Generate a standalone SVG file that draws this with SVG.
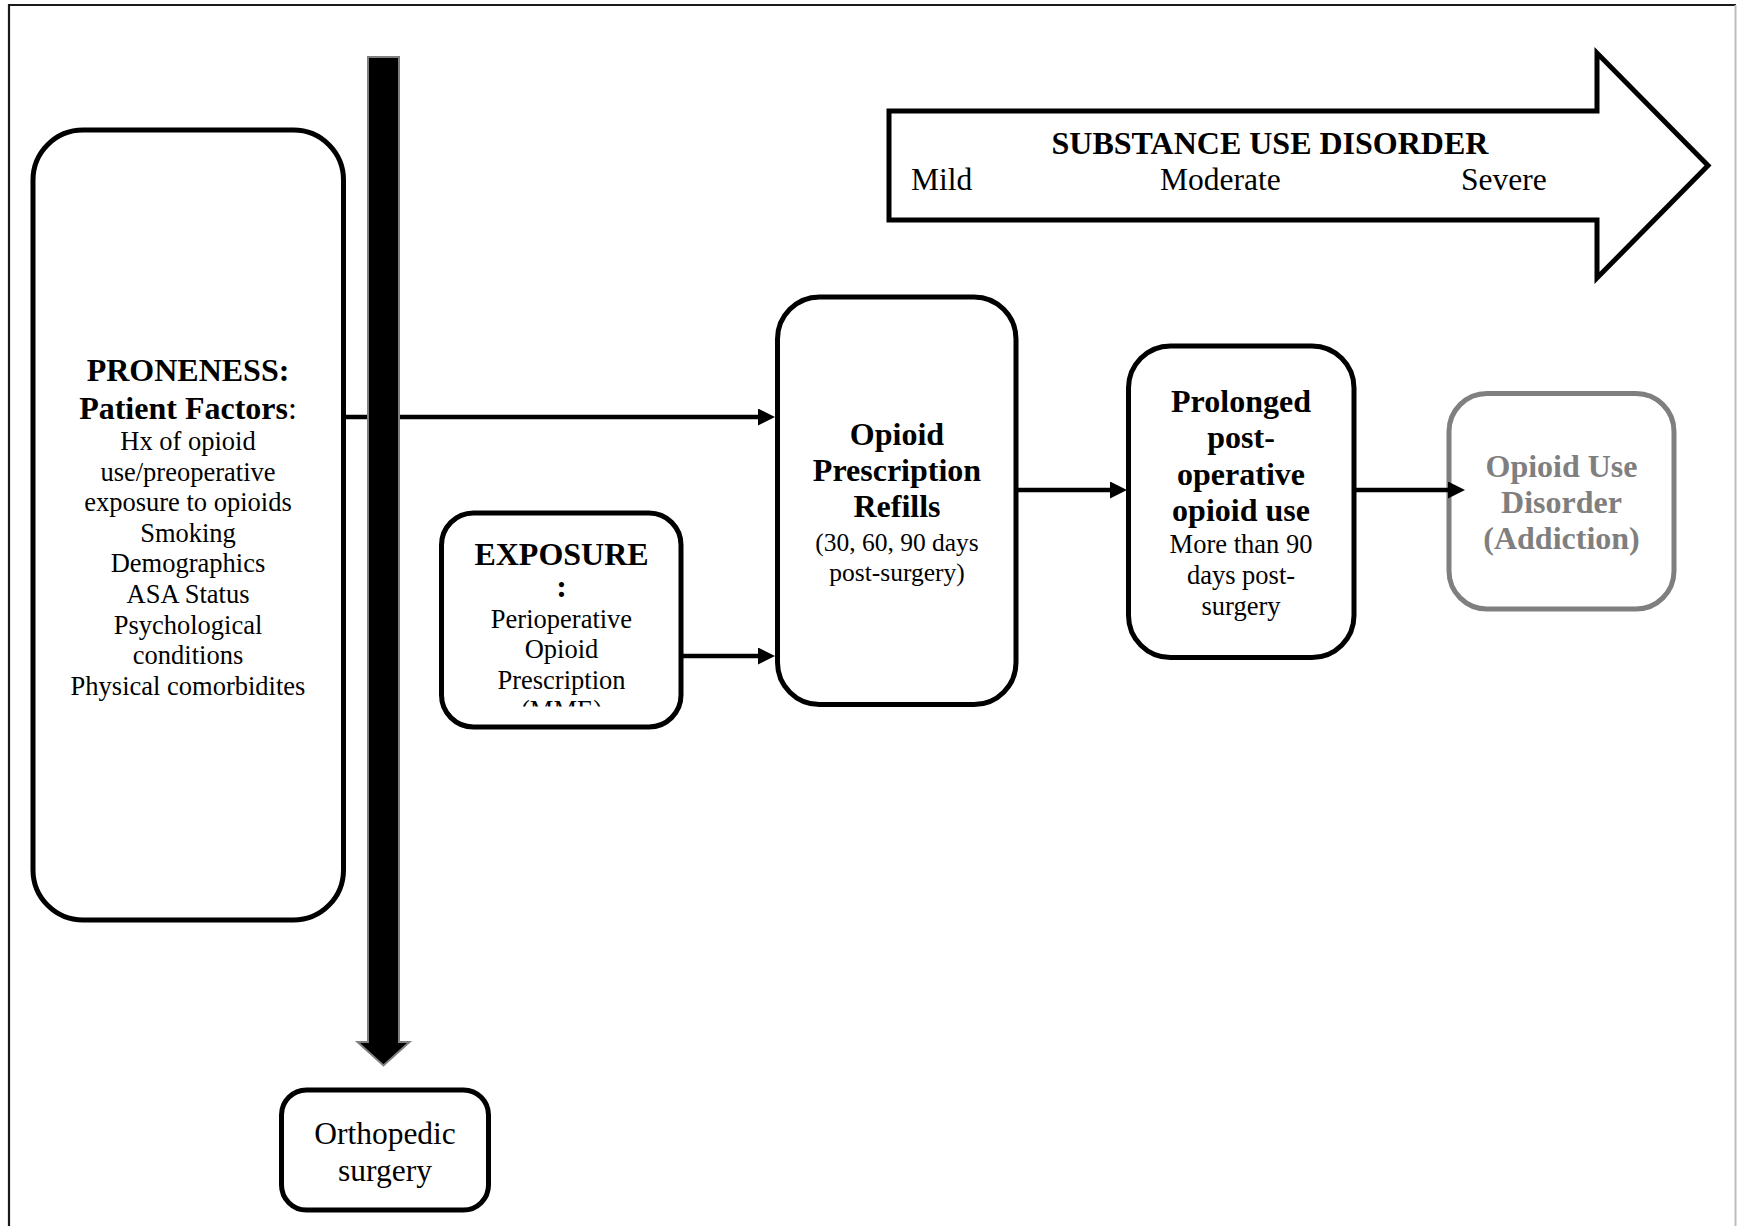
<svg xmlns="http://www.w3.org/2000/svg" width="1737" height="1226" viewBox="0 0 1737 1226">
  <defs>
    <style>
      text { font-family: "Liberation Serif", "Times New Roman", serif; text-anchor: middle; fill: #000; }
      .b { font-weight: bold; font-size: 32px; }
      .r { font-size: 26.5px; }
      .r25 { font-size: 25.5px; }
      .big { font-size: 31.5px; }
      .node { fill: #fff; stroke: #000; stroke-width: 5; }
      .gray { fill: #fff; stroke: #7f7f7f; stroke-width: 5; }
      .gtext { fill: #7f7f7f; }
      .conn { fill: none; stroke: #000; stroke-width: 4.5; marker-end: url(#ah); }
    </style>
    <marker id="ah" markerUnits="userSpaceOnUse" markerWidth="17" markerHeight="17" refX="9" refY="8.5" orient="auto">
      <path d="M0,0 L17,8.5 L0,17 z" fill="#000"/>
    </marker>
    <clipPath id="expClip">
      <rect x="441" y="513" width="240" height="193.5"/>
    </clipPath>
  </defs>

  <rect width="1737" height="1226" fill="#fff"/>

  <g id="frame">
    <line x1="9" y1="5" x2="1736" y2="5" stroke="#1a1a1a" stroke-width="2.2"/>
    <line x1="9" y1="4" x2="9" y2="1226" stroke="#1a1a1a" stroke-width="2.2"/>
    <line x1="1735.5" y1="5" x2="1735.5" y2="1226" stroke="#bdbdbd" stroke-width="2"/>
  </g>

  <g id="substance-use-disorder">
    <path d="M889,111 H1597 V53 L1708,165.5 L1597,278 V220 H889 Z" fill="#fff" stroke="#000" stroke-width="5" stroke-linejoin="miter"/>
    <text class="b" x="1270" y="154">SUBSTANCE USE DISORDER</text>
    <text class="big" x="911" y="190" style="text-anchor:start">Mild</text>
    <text class="big" x="1160" y="190" style="text-anchor:start">Moderate</text>
    <text class="big" x="1461" y="190" style="text-anchor:start">Severe</text>
  </g>

  <g id="proneness">
    <rect class="node" x="33" y="130" width="310.5" height="790" rx="50" ry="50"/>
    <text class="b" x="188" y="381">PRONENESS:</text>
    <text x="188" y="419"><tspan class="b">Patient Factors</tspan><tspan style="font-size:32px">:</tspan></text>
    <text class="r" x="188" y="450">Hx of opioid</text>
    <text class="r" x="188" y="480.6">use/preoperative</text>
    <text class="r" x="188" y="511.2">exposure to opioids</text>
    <text class="r" x="188" y="541.8">Smoking</text>
    <text class="r" x="188" y="572.4">Demographics</text>
    <text class="r" x="188" y="603">ASA Status</text>
    <text class="r" x="188" y="633.6">Psychological</text>
    <text class="r" x="188" y="664.2">conditions</text>
    <text class="r" x="188" y="694.8">Physical comorbidites</text>
  </g>

  <g id="exposure">
    <rect class="node" x="441.5" y="513" width="239.5" height="214" rx="32" ry="32"/>
    <g clip-path="url(#expClip)">
      <text class="b" x="561.5" y="565">EXPOSURE</text>
      <text class="b" x="561.5" y="597">:</text>
      <text class="r" x="561.5" y="627.5">Perioperative</text>
      <text class="r" x="561.5" y="658">Opioid</text>
      <text class="r" x="561.5" y="688.5">Prescription</text>
      <text class="r" x="561.5" y="719">(MME)</text>
    </g>
  </g>

  <g id="refills">
    <rect class="node" x="777.5" y="297" width="238.5" height="407.5" rx="42" ry="42"/>
    <text class="b" x="897" y="445">Opioid</text>
    <text class="b" x="897" y="481">Prescription</text>
    <text class="b" x="897" y="517">Refills</text>
    <text class="r25" x="897" y="551">(30, 60, 90 days</text>
    <text class="r25" x="897" y="581">post-surgery)</text>
  </g>

  <g id="prolonged">
    <rect class="node" x="1128.5" y="346" width="225.5" height="311.5" rx="42" ry="42"/>
    <text class="b" x="1241" y="412">Prolonged</text>
    <text class="b" x="1241" y="448">post-</text>
    <text class="b" x="1241" y="485">operative</text>
    <text class="b" x="1241" y="521">opioid use</text>
    <text class="r" x="1241" y="553">More than 90</text>
    <text class="r" x="1241" y="584">days post-</text>
    <text class="r" x="1241" y="615">surgery</text>
  </g>

  <g id="opioid-use-disorder">
    <rect class="gray" x="1449" y="393.5" width="225" height="215.5" rx="38" ry="38"/>
    <text class="b gtext" x="1561.5" y="477">Opioid Use</text>
    <text class="b gtext" x="1561.5" y="513">Disorder</text>
    <text class="b gtext" x="1561.5" y="549">(Addiction)</text>
  </g>

  <g id="orthopedic-surgery">
    <rect class="node" x="281.5" y="1090" width="207" height="120" rx="25" ry="25"/>
    <text class="big" x="385" y="1144">Orthopedic</text>
    <text class="big" x="385" y="1181">surgery</text>
  </g>

  <g id="connectors">
    <path class="conn" d="M346,417 H767"/>
    <path class="conn" d="M681,656 H767"/>
    <path class="conn" d="M1016,490 H1119"/>
    <path class="conn" d="M1354,490 H1457"/>
  </g>

  <g id="surgery-timeline-arrow">
    <path d="M368,57 H399 V1042 H409.5 L383.5,1065.5 L357.5,1042 H368 Z" fill="#000" stroke="#7f7f7f" stroke-width="2"/>
  </g>
</svg>
